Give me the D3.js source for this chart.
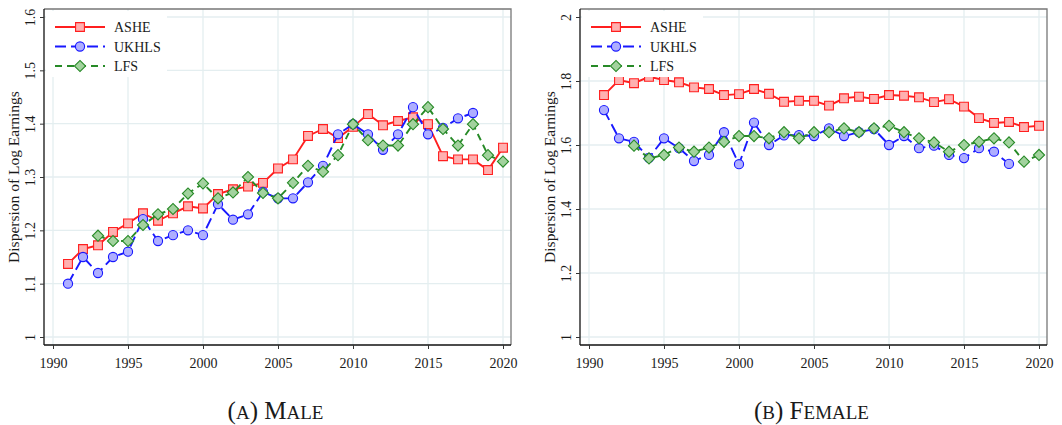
<!DOCTYPE html>
<html>
<head>
<meta charset="utf-8">
<script src="https://cdn.jsdelivr.net/npm/d3@7"></script>
<style>
body { margin: 0; background: #fff; }
svg text { font-family: "Liberation Serif", "DejaVu Serif", serif; fill: #1a1a1a; }
</style>
</head>
<body>
<script>
// years
let yearsAll = d3.range(1991, 2021);
let yearsLFS = d3.range(1993, 2021);
let yearsUK = d3.range(1991, 2019);

// male series
let maleASHE = [1.137, 1.165, 1.172, 1.197, 1.213, 1.232, 1.218, 1.232, 1.245, 1.241,
	1.268, 1.277, 1.282, 1.289, 1.316, 1.333, 1.377, 1.390, 1.373, 1.394,
	1.418, 1.397, 1.405, 1.412, 1.399, 1.339, 1.333, 1.333, 1.313, 1.355];
let maleUK = [1.100, 1.150, 1.120, 1.150, 1.160, 1.221, 1.180, 1.191, 1.200, 1.191,
	1.249, 1.220, 1.230, 1.272, 1.260, 1.260, 1.290, 1.321, 1.380, 1.399,
	1.380, 1.351, 1.380, 1.431, 1.380, 1.392, 1.410, 1.420];
let maleLFS = [1.190, 1.180, 1.180, 1.210, 1.230, 1.240, 1.269, 1.288,
	1.260, 1.271, 1.300, 1.270, 1.260, 1.289, 1.321, 1.310, 1.341, 1.399,
	1.369, 1.359, 1.359, 1.399, 1.431, 1.390, 1.359, 1.399, 1.341, 1.329];

// female series
let femASHE = [1.756, 1.803, 1.793, 1.813, 1.803, 1.796, 1.780, 1.775, 1.756, 1.759,
	1.775, 1.760, 1.735, 1.738, 1.738, 1.723, 1.746, 1.751, 1.744, 1.756,
	1.754, 1.749, 1.734, 1.743, 1.720, 1.684, 1.669, 1.672, 1.656, 1.660];
let femUK = [1.709, 1.621, 1.610, 1.560, 1.621, 1.590, 1.550, 1.569, 1.640, 1.540,
	1.670, 1.600, 1.630, 1.631, 1.628, 1.652, 1.628, 1.640, 1.650, 1.600,
	1.628, 1.590, 1.598, 1.569, 1.559, 1.590, 1.579, 1.541];
let femLFS = [1.598, 1.558, 1.569, 1.592, 1.579, 1.592, 1.610, 1.628,
	1.628, 1.621, 1.640, 1.621, 1.640, 1.640, 1.652, 1.640, 1.652, 1.660,
	1.640, 1.621, 1.608, 1.579, 1.600, 1.610, 1.621, 1.608, 1.548, 1.569];

let xTicks = [1990, 1995, 2000, 2005, 2010, 2015, 2020];
let maleTicks = [1, 1.1, 1.2, 1.3, 1.4, 1.5, 1.6];
let femTicks = [1, 1.2, 1.4, 1.6, 1.8, 2];
let seriesNames = ["ASHE", "UKHLS", "LFS"];

let W = 1062, H = 425;
let svg = d3.select("body").append("svg").attr("width", W).attr("height", H);

// rot: diamonds are squares turned 45 degrees
let styles = {
	ASHE: { line: "#ff1f1f", fill: "#ffb0b0", dash: null, shape: d3.symbolSquare, size: 78, rot: 0 },
	UKHLS: { line: "#1818ff", fill: "#aeaeff", dash: "11,5", shape: d3.symbolCircle, size: 66, rot: 0 },
	LFS: { line: "#278a27", fill: "#a2d29e", dash: "7,5", shape: d3.symbolSquare, size: 62, rot: 45 }
};

function fmt(d) {
	return d3.format("~g")(d);
}

function drawPanel(opt) {
	let g = svg.append("g");
	let x = d3.scaleLinear().domain([1990, 2020]).range([opt.x0, opt.x1]);
	let y = d3.scaleLinear().domain(opt.yDomain).range([337, 17]);
	let left = opt.x0 - 9, right = opt.x1 + 8, top = 9, bottom = 345;

	// grid
	g.selectAll(".gx").data(xTicks).enter().append("line")
		.attr("x1", d => x(d)).attr("x2", d => x(d))
		.attr("y1", top).attr("y2", bottom)
		.attr("stroke", "#e4eef0").attr("stroke-width", 1.3);
	g.selectAll(".gy").data(opt.yTicks).enter().append("line")
		.attr("x1", left).attr("x2", right)
		.attr("y1", d => y(d)).attr("y2", d => y(d))
		.attr("stroke", "#e4eef0").attr("stroke-width", 1.3);

	// frame top / right
	g.append("path")
		.attr("d", "M" + left + "," + top + "H" + right + "V" + bottom)
		.attr("fill", "none").attr("stroke", "#777").attr("stroke-width", 1.3);

	// axes
	let xAxis = d3.axisBottom(x).tickValues(xTicks).tickFormat(d3.format("d")).tickSizeOuter(0).tickSize(4);
	let gx = g.append("g").attr("transform", "translate(0," + bottom + ")").call(xAxis);
	gx.select(".domain").attr("d", "M" + left + ",0H" + right).attr("stroke", "#111").attr("stroke-width", 1.3);
	gx.selectAll(".tick line").attr("stroke", "#333");
	gx.selectAll("text").attr("font-size", 14).attr("font-family", "Liberation Serif").attr("dy", "1.15em").attr("fill", "#1a1a1a");

	let yAxis = d3.axisLeft(y).tickValues(opt.yTicks).tickFormat(fmt).tickSizeOuter(0).tickSize(4);
	let gy = g.append("g").attr("transform", "translate(" + left + ",0)").call(yAxis);
	gy.select(".domain").attr("d", "M0," + top + "V" + bottom).attr("stroke", "#111").attr("stroke-width", 1.3);
	gy.selectAll(".tick line").attr("stroke", "#333");
	gy.selectAll("text")
		.attr("font-size", 14).attr("font-family", "Liberation Serif").attr("fill", "#1a1a1a")
		.attr("x", 0).attr("dy", 0)
		.attr("text-anchor", "middle")
		.attr("transform", "translate(-9,0) rotate(-90)");

	// y title
	g.append("text")
		.attr("transform", "translate(" + (left - 25) + "," + ((top + bottom) / 2) + ") rotate(-90)")
		.attr("text-anchor", "middle")
		.attr("font-size", 15.5)
		.text("Dispersion of Log Earnings");

	// series
	let data = [
		{ name: "ASHE", years: yearsAll, vals: opt.ashe },
		{ name: "UKHLS", years: yearsUK, vals: opt.uk },
		{ name: "LFS", years: yearsLFS, vals: opt.lfs }
	];
	let line = d3.line().x(d => x(d[0])).y(d => y(d[1]));
	data.forEach(function(s) {
		let st = styles[s.name];
		let pts = s.years.map((yr, i) => [yr, s.vals[i]]);
		g.append("path").datum(pts)
			.attr("d", line)
			.attr("fill", "none")
			.attr("stroke", st.line)
			.attr("stroke-width", 1.9)
			.attr("stroke-dasharray", st.dash);
		g.selectAll(".m" + s.name).data(pts).enter().append("path")
			.attr("d", d3.symbol().type(st.shape).size(st.size))
			.attr("transform", d => "translate(" + x(d[0]) + "," + y(d[1]) + ") rotate(" + st.rot + ")")
			.attr("fill", st.fill)
			.attr("stroke", st.line)
			.attr("stroke-width", 1.1);
	});

	// legend
	let lg = g.append("g");
	lg.append("rect")
		.attr("x", left + 2).attr("y", top + 2)
		.attr("width", 121).attr("height", 66)
		.attr("fill", "#fff");
	seriesNames.forEach(function(n, i) {
		let st = styles[n];
		let ly = 27 + i * 19.5;
		lg.append("line")
			.attr("x1", left + 11).attr("x2", left + 61)
			.attr("y1", ly).attr("y2", ly)
			.attr("stroke", st.line).attr("stroke-width", 1.9)
			.attr("stroke-dasharray", st.dash);
		lg.append("path")
			.attr("d", d3.symbol().type(st.shape).size(st.size)())
			.attr("transform", "translate(" + (left + 36) + "," + ly + ") rotate(" + st.rot + ")")
			.attr("fill", st.fill).attr("stroke", st.line).attr("stroke-width", 1.1);
		lg.append("text")
			.attr("x", left + 70).attr("y", ly + 5)
			.attr("font-size", 14)
			.text(n);
	});

	// caption
	let cap = svg.append("text")
		.attr("x", (left + right) / 2 - 2).attr("y", 419)
		.attr("text-anchor", "middle")
		.attr("font-size", 25);
	opt.caption.forEach(function(p) {
		cap.append("tspan").attr("font-size", p[1] ? 25 : 19).text(p[0]);
	});
}

drawPanel({
	x0: 53, x1: 503,
	yDomain: [1, 1.6], yTicks: maleTicks,
	ashe: maleASHE, uk: maleUK, lfs: maleLFS,
	caption: [["(", 1], ["A", 0], [") M", 1], ["ALE", 0]]
});

drawPanel({
	x0: 589, x1: 1039,
	yDomain: [1, 2], yTicks: femTicks,
	ashe: femASHE, uk: femUK, lfs: femLFS,
	caption: [["(", 1], ["B", 0], [") F", 1], ["EMALE", 0]]
});
</script>
</body>
</html>
